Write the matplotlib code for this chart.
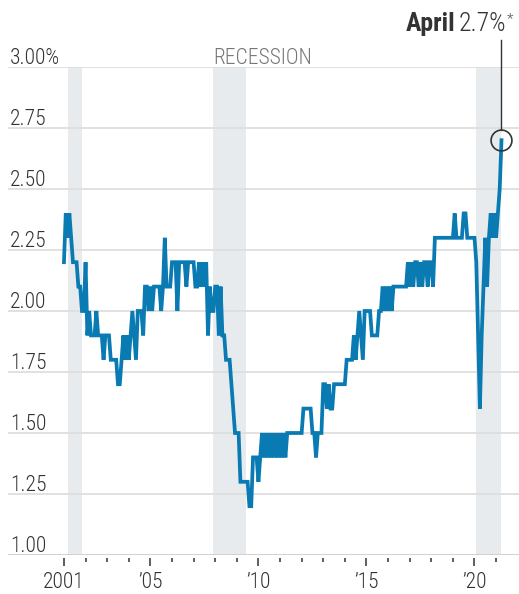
import matplotlib
matplotlib.use("Agg")
import matplotlib.pyplot as plt
from matplotlib import font_manager
import matplotlib.transforms as mtransforms
import numpy as np

# ---------------- data (monthly, Jan 2001 - Apr 2021) ----------------
v2001 = [2.2, 2.4, 2.3, 2.4, 2.3, 2.2, 2.2, 2.2, 2.1, 2.1, 2.0, 2.0]
v2002 = [2.2, 1.9, 2.0, 1.9, 1.9, 1.9, 2.0, 1.9, 1.9, 1.9, 1.8, 1.9]
v2003 = [1.9, 1.9, 1.8, 1.8, 1.8, 1.8, 1.7, 1.7, 1.8, 1.9, 1.8, 1.9]
v2004 = [1.8, 1.9, 2.0, 1.9, 1.8, 2.0, 2.0, 2.0, 1.9, 2.1, 2.1, 2.0]
v2005 = [2.1, 2.0, 2.1, 2.1, 2.1, 2.1, 2.0, 2.1, 2.3, 2.1, 2.1, 2.1]
v2006 = [2.2, 2.2, 2.2, 2.0, 2.2, 2.2, 2.2, 2.2, 2.1, 2.2, 2.2, 2.2]
v2007 = [2.2, 2.1, 2.1, 2.2, 2.1, 2.2, 2.1, 2.2, 1.9, 2.1, 2.0, 2.0]
v2008 = [2.1, 2.1, 1.9, 2.1, 1.9, 1.9, 1.8, 1.8, 1.8, 1.7, 1.6, 1.5]
v2009 = [1.5, 1.5, 1.3, 1.3, 1.3, 1.3, 1.3, 1.2, 1.2, 1.4, 1.4, 1.4]
v2010 = [1.3, 1.4, 1.5, 1.4, 1.5, 1.4, 1.5, 1.4, 1.5, 1.4, 1.5, 1.4]
v2011 = [1.5, 1.4, 1.5, 1.4, 1.5, 1.5, 1.5, 1.5, 1.5, 1.5, 1.5, 1.5]
v2012 = [1.5, 1.6, 1.6, 1.6, 1.6, 1.6, 1.5, 1.5, 1.4, 1.5, 1.5, 1.5]
v2013 = [1.7, 1.7, 1.6, 1.7, 1.6, 1.6, 1.7, 1.7, 1.7, 1.7, 1.7, 1.7]
v2014 = [1.7, 1.8, 1.8, 1.8, 1.8, 1.9, 1.8, 1.9, 2.0, 1.9, 1.8, 2.0]
v2015 = [2.0, 2.0, 2.0, 1.9, 1.9, 1.9, 1.9, 2.0, 2.0, 2.1, 2.0, 2.1]
v2016 = [2.0, 2.1, 2.0, 2.1, 2.1, 2.1, 2.1, 2.1, 2.1, 2.1, 2.1, 2.2]
v2017 = [2.1, 2.2, 2.1, 2.2, 2.2, 2.1, 2.2, 2.1, 2.2, 2.2, 2.1, 2.2]
v2018 = [2.2, 2.1, 2.3, 2.3, 2.3, 2.3, 2.3, 2.3, 2.3, 2.3, 2.3, 2.3]
v2019 = [2.3, 2.4, 2.3, 2.3, 2.3, 2.3, 2.4, 2.4, 2.3, 2.3, 2.3, 2.3]
v2020 = [2.3, 2.2, 1.9, 1.6, 1.9, 2.1, 2.3, 2.1, 2.3, 2.4, 2.3, 2.4]
v2021 = [2.3, 2.4, 2.5, 2.7]

start_year = 2001
recessions = [(2001.17, 2001.83), (2007.92, 2009.42), (2020.08, 2021.24)]
y_ticks = [1.00, 1.25, 1.50, 1.75, 2.00, 2.25, 2.50, 2.75, 3.00]
y_labels = ["1.00", "1.25", "1.50", "1.75", "2.00", "2.25", "2.50", "2.75", "3.00%"]
x_major = [2001, 2005, 2010, 2015, 2020]
x_major_labels = ["2001", "\u201905", "\u201910", "\u201915", "\u201920"]
x_minor = list(range(2001, 2022))
recession_label = "RECESSION"
last_month_label = "April"
last_value_label = "2.7%"

values = np.array(v2001 + v2002 + v2003 + v2004 + v2005 + v2006 + v2007 +
                  v2008 + v2009 + v2010 + v2011 + v2012 + v2013 + v2014 +
                  v2015 + v2016 + v2017 + v2018 + v2019 + v2020 + v2021)
dates = start_year + np.arange(len(values)) / 12.0

# ---------------- fonts ----------------
names = {f.name for f in font_manager.fontManager.ttflist}
for cand in ["Roboto Condensed", "Liberation Sans Narrow", "Open Sans Condensed",
             "Lato", "Roboto", "DejaVu Sans"]:
    if cand in names:
        FONT = cand
        break
plt.rcParams['font.family'] = [FONT, 'DejaVu Sans']
LIGHT = 'light'

W, H = 519, 594
DPI = 100
fig = plt.figure(figsize=(W / DPI, H / DPI), dpi=DPI)

ax_left, ax_right, ax_top, ax_bottom = 8, 519, 67, 555
ax = fig.add_axes([ax_left / W, 1 - ax_bottom / H,
                   (ax_right - ax_left) / W, (ax_bottom - ax_top) / H])
ax.set_xlim(1998.41, 2022.06)
ax.set_ylim(1.0, 3.0)

LINE = '#0a7ab3'
TXT = '#333333'
FS = 15.5

for a, b in recessions:
    ax.axvspan(a, b, color='#e8ebee', lw=0, zorder=0)

for yv in y_ticks:
    ax.axhline(yv, color='#dedede' if yv > 1.0 else '#cfcfcf', lw=1.3, zorder=1)

ax.plot(dates, values, color=LINE, lw=2.7, solid_joinstyle='miter', zorder=3)

# y labels sitting above their gridlines
ylab_tr = mtransforms.offset_copy(ax.get_yaxis_transform(), fig=fig, x=2, y=-2, units='dots')
for yv, lab in zip(y_ticks, y_labels):
    ax.text(0, yv, lab, transform=ylab_tr, ha='left', va='bottom',
            fontsize=FS, color=TXT, zorder=4, fontweight=LIGHT)

# recession label
rec_tr = mtransforms.offset_copy(ax.transData, fig=fig, x=0, y=-2, units='dots')
ax.text(recessions[1][0], 3.0, recession_label, transform=rec_tr, ha='left', va='bottom',
        fontsize=FS, color='#777777', fontweight=LIGHT)

# x ticks
for s in ['top', 'right', 'left']:
    ax.spines[s].set_visible(False)
ax.spines['bottom'].set_position(('outward', 2))
ax.spines['bottom'].set_visible(False)
ax.set_yticks([])
ax.set_xticks(x_major)
ax.set_xticklabels(x_major_labels, fontweight=LIGHT)
ax.set_xticks(x_minor, minor=True)
ax.tick_params(axis='x', which='major', length=6, width=1.1, color=TXT,
               labelsize=FS, labelcolor=TXT, pad=4)
ax.tick_params(axis='x', which='minor', length=3, width=1.1, color=TXT)

# circle on last point + leader line
last_x, last_y = dates[-1], values[-1]
ax.plot([last_x], [last_y], marker='o', ms=15, mfc='none', mec=TXT, mew=1.2,
        zorder=5, clip_on=False)
pt = ax.transData.transform((last_x, last_y))
x_fig = pt[0]
y_top_circle = pt[1] + 10.5
line_top = H - 40
fig.add_artist(plt.Line2D([x_fig / W, x_fig / W], [y_top_circle / H, line_top / H],
                          color=TXT, lw=1.0, transform=fig.transFigure))

# annotation text "April 2.7%*"
renderer = fig.canvas.get_renderer()
right_px = 513
base_px = H - 31
t3 = fig.text(right_px / W, (base_px + 8) / H, "*", ha='right', va='baseline',
              fontsize=11, color='#555555', fontweight=LIGHT)
w3 = t3.get_window_extent(renderer).width
t2 = fig.text((right_px - w3) / W, base_px / H, last_value_label, ha='right',
              va='baseline', fontsize=18.5, color=TXT, fontweight=LIGHT)
w2 = t2.get_window_extent(renderer).width
t1 = fig.text((right_px - w3 - w2 - 4) / W, base_px / H, last_month_label, ha='right',
              va='baseline', fontsize=18.5, color=TXT, fontweight='bold')

fig.savefig("out.png", dpi=DPI)
